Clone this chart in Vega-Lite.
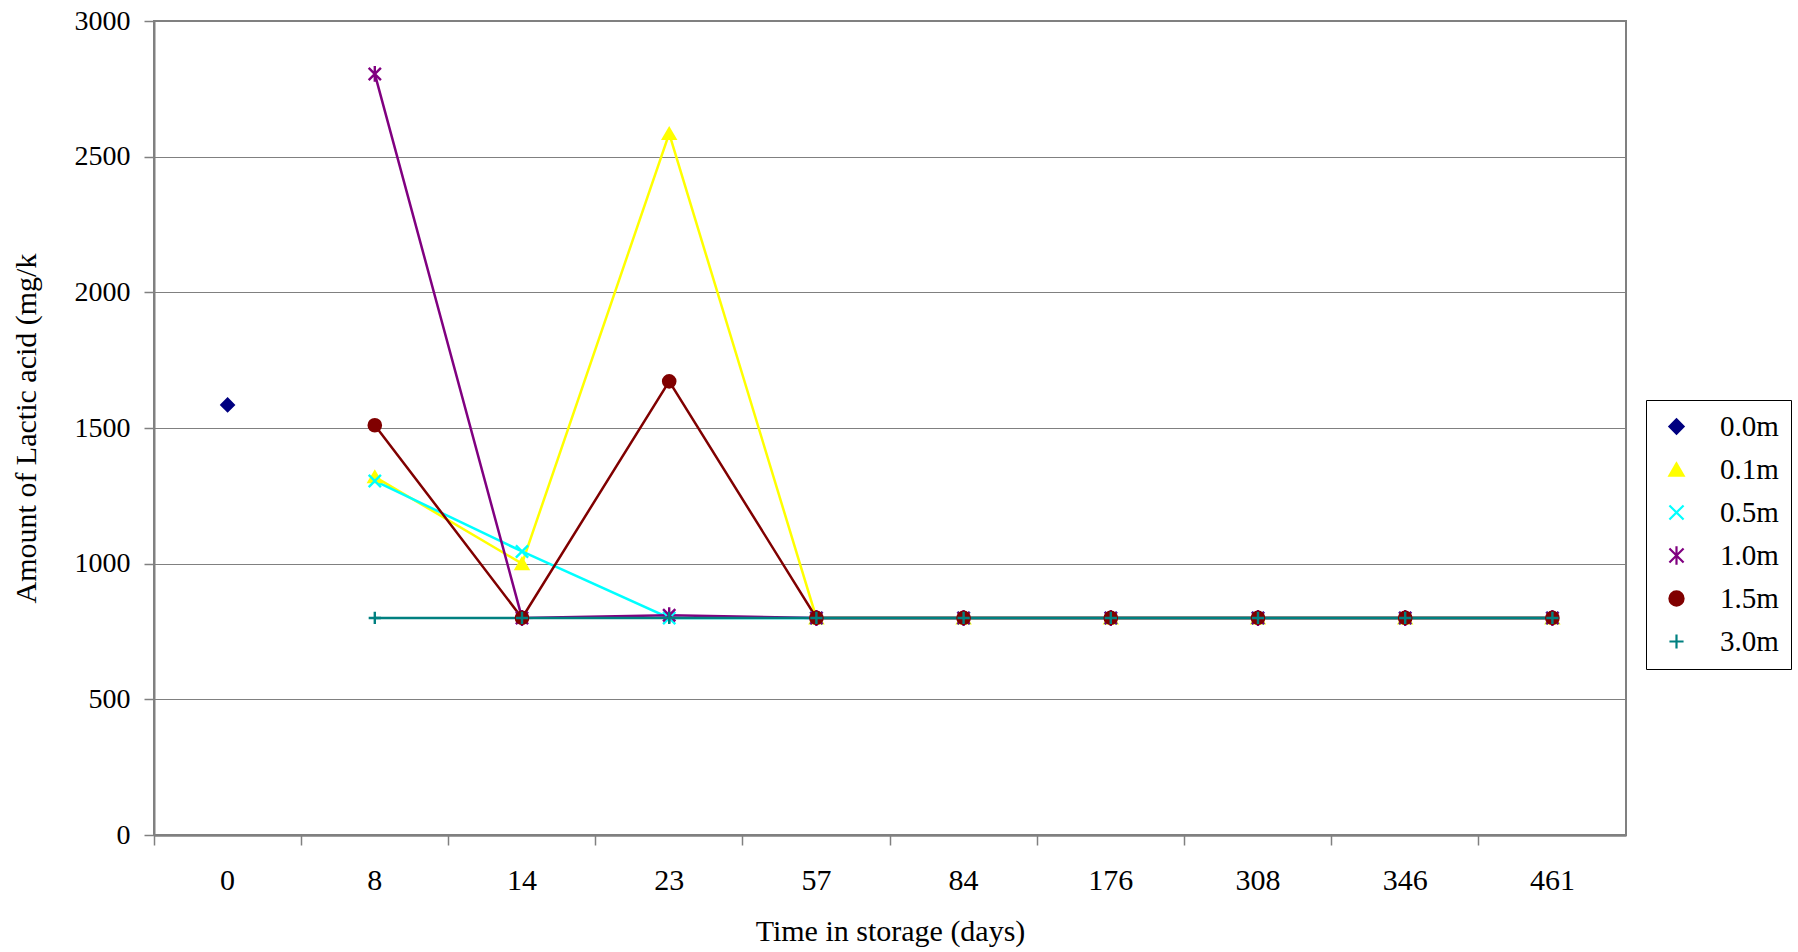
{
  "$schema": "https://vega.github.io/schema/vega-lite/v6.json",
  "width": 1472,
  "height": 814,
  "autosize": {"type": "none"},
  "padding": {"left": 154, "top": 21, "right": 172, "bottom": 117},
  "background": "white",
  "config": {
    "view": {"stroke": "#808080", "strokeWidth": 2},
    "font": "Liberation Serif"
  },
  "data": {
    "values": [
      {"series": "0.0m", "day": "0", "value": 1585},
      {"series": "0.1m", "day": "8", "value": 1320},
      {"series": "0.1m", "day": "14", "value": 1000},
      {"series": "0.1m", "day": "23", "value": 2585},
      {"series": "0.1m", "day": "57", "value": 800},
      {"series": "0.1m", "day": "84", "value": 800},
      {"series": "0.1m", "day": "176", "value": 800},
      {"series": "0.1m", "day": "308", "value": 800},
      {"series": "0.1m", "day": "346", "value": 800},
      {"series": "0.1m", "day": "461", "value": 800},
      {"series": "0.5m", "day": "8", "value": 1305},
      {"series": "0.5m", "day": "14", "value": 1045},
      {"series": "0.5m", "day": "23", "value": 800},
      {"series": "0.5m", "day": "57", "value": 800},
      {"series": "0.5m", "day": "84", "value": 800},
      {"series": "0.5m", "day": "176", "value": 800},
      {"series": "0.5m", "day": "308", "value": 800},
      {"series": "0.5m", "day": "346", "value": 800},
      {"series": "0.5m", "day": "461", "value": 800},
      {"series": "1.0m", "day": "8", "value": 2805},
      {"series": "1.0m", "day": "14", "value": 800},
      {"series": "1.0m", "day": "23", "value": 810},
      {"series": "1.0m", "day": "57", "value": 800},
      {"series": "1.0m", "day": "84", "value": 800},
      {"series": "1.0m", "day": "176", "value": 800},
      {"series": "1.0m", "day": "308", "value": 800},
      {"series": "1.0m", "day": "346", "value": 800},
      {"series": "1.0m", "day": "461", "value": 800},
      {"series": "1.5m", "day": "8", "value": 1510},
      {"series": "1.5m", "day": "14", "value": 800},
      {"series": "1.5m", "day": "23", "value": 1672},
      {"series": "1.5m", "day": "57", "value": 800},
      {"series": "1.5m", "day": "84", "value": 800},
      {"series": "1.5m", "day": "176", "value": 800},
      {"series": "1.5m", "day": "308", "value": 800},
      {"series": "1.5m", "day": "346", "value": 800},
      {"series": "1.5m", "day": "461", "value": 800},
      {"series": "3.0m", "day": "8", "value": 800},
      {"series": "3.0m", "day": "14", "value": 800},
      {"series": "3.0m", "day": "23", "value": 800},
      {"series": "3.0m", "day": "57", "value": 800},
      {"series": "3.0m", "day": "84", "value": 800},
      {"series": "3.0m", "day": "176", "value": 800},
      {"series": "3.0m", "day": "308", "value": 800},
      {"series": "3.0m", "day": "346", "value": 800},
      {"series": "3.0m", "day": "461", "value": 800}
    ]
  },
  "encoding": {
    "x": {
      "field": "day",
      "type": "ordinal",
      "sort": ["0", "8", "14", "23", "57", "84", "176", "308", "346", "461"],
      "bandPosition": 0.5,
      "scale": {"type": "band", "paddingInner": 0, "paddingOuter": 0},
      "axis": {
        "bandPosition": 0,
        "labelAngle": 0,
        "labelFontSize": 30,
        "labelColor": "black",
        "labelPadding": 20,
        "tickSize": 10,
        "tickColor": "#808080",
        "tickWidth": 1.5,
        "domainColor": "#808080",
        "domainWidth": 2.5,
        "grid": false,
        "title": "Time in storage (days)",
        "titleFontSize": 30,
        "titleFontWeight": "normal",
        "titleColor": "black",
        "titlePadding": 21
      }
    },
    "y": {
      "field": "value",
      "type": "quantitative",
      "scale": {"domain": [0, 3000], "nice": false},
      "axis": {
        "values": [0, 500, 1000, 1500, 2000, 2500, 3000],
        "format": "d",
        "labelFontSize": 28,
        "labelColor": "black",
        "labelPadding": 14,
        "tickSize": 10,
        "tickColor": "#808080",
        "tickWidth": 1.5,
        "domainColor": "#808080",
        "domainWidth": 2,
        "grid": true,
        "gridColor": "#808080",
        "gridWidth": 1.2,
        "title": "Amount of Lactic acid (mg/k",
        "titleFontSize": 30,
        "titleFontWeight": "normal",
        "titleColor": "black",
        "titlePadding": 33
      }
    },
    "color": {
      "field": "series",
      "type": "nominal",
      "scale": {
        "domain": ["0.0m", "0.1m", "0.5m", "1.0m", "1.5m", "3.0m"],
        "range": ["#000080", "#FFFF00", "#00FFFF", "#800080", "#800000", "#008080"]
      },
      "legend": {
        "title": null,
        "orient": "none",
        "legendX": 1492,
        "legendY": 379,
        "strokeColor": "black",
        "fillColor": "white",
        "padding": 12,
        "labelFontSize": 29,
        "labelColor": "black",
        "symbolSize": 200,
        "symbolStrokeWidth": 2.2,
        "symbolOffset": 4,
        "labelOffset": 29,
        "rowPadding": 13
      }
    }
  },
  "layer": [
    {
      "mark": {"type": "line", "strokeWidth": 2.5},
      "encoding": {}
    },
    {
      "mark": {"type": "point", "filled": true, "size": 150, "strokeWidth": 2.4, "opacity": 1},
      "encoding": {
        "stroke": {
          "field": "series",
          "type": "nominal",
          "scale": {
            "domain": ["0.0m", "0.1m", "0.5m", "1.0m", "1.5m", "3.0m"],
            "range": ["#000080", "#FFFF00", "#00FFFF", "#800080", "#800000", "#008080"]
          }
        },
        "shape": {
          "field": "series",
          "type": "nominal",
          "scale": {
            "domain": ["0.0m", "0.1m", "0.5m", "1.0m", "1.5m", "3.0m"],
            "range": ["diamond", "triangle-up", "M-1,-1L1,1M1,-1L-1,1", "M-1,-1L1,1M1,-1L-1,1M0,-1.3L0,1.3", "circle", "M0,-1L0,1M-1,0L1,0"]
          }
        }
      }
    }
  ]
}
